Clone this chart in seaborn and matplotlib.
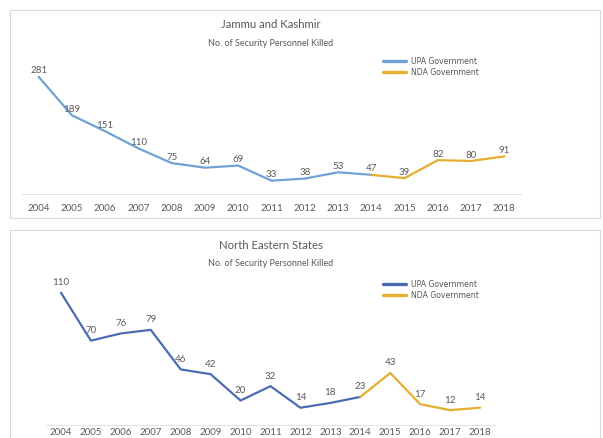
import matplotlib.pyplot as plt
import matplotlib.patches as mpatches
import matplotlib.lines as mlines
import pandas as pd
import seaborn as sns

YEARS = list(range(2004, 2019))
JK_KILLED = [281, 189, 151, 110, 75, 64, 69, 33, 38, 53, 47, 39, 82, 80, 91]
NE_KILLED = [110, 70, 76, 79, 46, 42, 20, 32, 14, 18, 23, 43, 17, 12, 14]
SWITCH_YEAR = 2014  # UPA up to and including 2014, NDA from 2014 on

UPA = "UPA Government"
NDA = "NDA Government"
TEXT = "#595959"
YELLOW = "#E5AE2E"
FONT = ["Lato", "DejaVu Sans"]

W, H = 603, 438


def long_frame(values):
    rows = []
    for y, v in zip(YEARS, values):
        if y <= SWITCH_YEAR:
            rows.append({"year": y, "killed": v, "gov": UPA})
        if y >= SWITCH_YEAR:
            rows.append({"year": y, "killed": v, "gov": NDA})
    return pd.DataFrame(rows)


def panel(fig, box, axes_px, px_per_unit, values, title, blue, label_dy, leg_xy, tick_pad):
    # box / axes given in pixels from top-left
    bx0, by0, bx1, by1 = box
    fig.patches.append(mpatches.Rectangle(
        (bx0 / W, 1 - by1 / H), (bx1 - bx0) / W, (by1 - by0) / H,
        transform=fig.transFigure, facecolor="white", edgecolor="#d9d9d9",
        linewidth=0.8, zorder=0))
    ax0, ay_top, ax1, ay_base = axes_px
    ax = fig.add_axes([ax0 / W, 1 - ay_base / H, (ax1 - ax0) / W, (ay_base - ay_top) / H])
    ax.set_facecolor("none")
    ax.set_zorder(2)

    df = long_frame(values)
    sns.lineplot(data=df, x="year", y="killed", hue="gov", hue_order=[UPA, NDA],
                 palette={UPA: blue, NDA: YELLOW}, linewidth=1.6, legend=False, ax=ax)

    ax.set_xlim(YEARS[0] - 0.5, YEARS[-1] + 0.5)
    ax.set_ylim(0, (ay_base - ay_top) / px_per_unit)
    ax.set_xticks(YEARS)
    ax.set_xticklabels([str(y) for y in YEARS], family=FONT, fontsize=7, color=TEXT)
    ax.set_yticks([])
    ax.tick_params(axis="x", length=0, pad=tick_pad)
    ax.set_xlabel("")
    ax.set_ylabel("")
    for s in ("top", "right", "left"):
        ax.spines[s].set_visible(False)
    ax.spines["bottom"].set_color("#e3e3e3")
    ax.spines["bottom"].set_linewidth(0.8)
    ax.grid(False)

    for y, v in zip(YEARS, values):
        ax.annotate(str(v), (y, v), xytext=(0, label_dy), textcoords="offset points",
                    ha="center", va="center", fontsize=7, color=TEXT, family=FONT)

    fig.text(271 / W, 1 - (by0 + 15) / H, title,
             ha="center", va="center", fontsize=8.2, color=TEXT, family=FONT)
    fig.text(271 / W, 1 - (by0 + 33) / H, "No. of Security Personnel Killed",
             ha="center", va="center", fontsize=6.5, color=TEXT, family=FONT)

    handles = [mlines.Line2D([], [], color=blue, linewidth=2.4, label=UPA),
               mlines.Line2D([], [], color=YELLOW, linewidth=2.4, label=NDA)]
    fig.legend(handles=handles, loc="upper left",
               bbox_to_anchor=(leg_xy[0] / W, 1 - leg_xy[1] / H),
               frameon=False, prop={"family": "DejaVu Sans", "size": 5.6},
               labelcolor=TEXT, handlelength=2.9, handletextpad=0.7,
               labelspacing=0.2, borderpad=0, borderaxespad=0)
    return ax


sns.set_theme(style="white")
plt.rcParams["font.family"] = FONT

fig = plt.figure(figsize=(W / 100, H / 100), dpi=100)
fig.patch.set_facecolor("white")

panel(fig, (10, 10, 600, 218), (22, 50, 521, 194.5), 0.419,
      JK_KILLED, "Jammu and Kashmir", "#6FA2D6", 4.3, (383, 57), 6.5)
panel(fig, (10, 230, 600, 460), (46, 270, 495, 424.5), 1.198,
      NE_KILLED, "North Eastern States", "#4A6CB3", 7.2, (383, 280), 2.5)

fig.savefig("out.png", dpi=100)
